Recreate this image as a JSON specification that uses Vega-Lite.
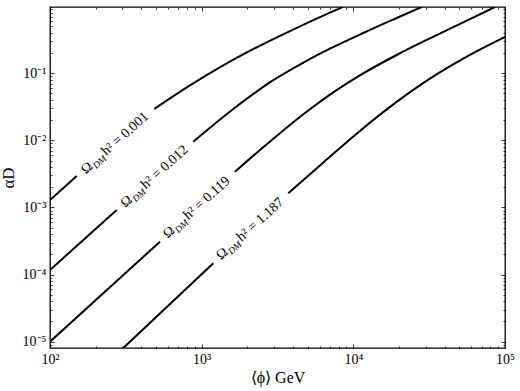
{
  "$schema": "https://vega.github.io/schema/vega-lite/v6.json",
  "width": 455,
  "height": 341,
  "autosize": {"type": "none"},
  "padding": {"left": 50, "top": 7, "right": 15, "bottom": 43},
  "config": {
    "view": {"stroke": "black", "strokeWidth": 1.3},
    "font": "Liberation Serif",
    "axis": {
      "domain": false, "grid": false, "tickColor": "black", "tickWidth": 0.8,
      "labelColor": "black", "labelFont": "Liberation Serif", "labelFontSize": 14,
      "labelFlush": false, "labelOverlap": false,
      "titleFont": "Liberation Serif", "titleColor": "black", "titleFontWeight": "normal"
    }
  },
  "datasets": {
    "curves": [
      {"omega": "0.001", "seg": "a", "phi": 100, "alpha": 0.001294},
      {"omega": "0.001", "seg": "a", "phi": 150, "alpha": 0.002946},
      {"omega": "0.001", "seg": "b", "phi": 487, "alpha": 0.02938},
      {"omega": "0.001", "seg": "b", "phi": 837, "alpha": 0.06603},
      {"omega": "0.001", "seg": "b", "phi": 1388, "alpha": 0.1311},
      {"omega": "0.001", "seg": "b", "phi": 2305, "alpha": 0.2432},
      {"omega": "0.001", "seg": "b", "phi": 3820, "alpha": 0.4256},
      {"omega": "0.001", "seg": "b", "phi": 7014, "alpha": 0.8},
      {"omega": "0.001", "seg": "b", "phi": 8538, "alpha": 0.973},
      {"omega": "0.012", "seg": "a", "phi": 100, "alpha": 0.0001171},
      {"omega": "0.012", "seg": "a", "phi": 275.3, "alpha": 0.000918},
      {"omega": "0.012", "seg": "b", "phi": 880, "alpha": 0.00956},
      {"omega": "0.012", "seg": "b", "phi": 1577, "alpha": 0.02818},
      {"omega": "0.012", "seg": "b", "phi": 2965, "alpha": 0.0789},
      {"omega": "0.012", "seg": "b", "phi": 4922, "alpha": 0.1536},
      {"omega": "0.012", "seg": "b", "phi": 7014, "alpha": 0.2326},
      {"omega": "0.012", "seg": "b", "phi": 11620, "alpha": 0.3989},
      {"omega": "0.012", "seg": "b", "phi": 19300, "alpha": 0.667},
      {"omega": "0.012", "seg": "b", "phi": 28200, "alpha": 0.973},
      {"omega": "0.119", "seg": "a", "phi": 100, "alpha": 0.00001},
      {"omega": "0.119", "seg": "a", "phi": 531, "alpha": 0.0003093},
      {"omega": "0.119", "seg": "b", "phi": 1658, "alpha": 0.003416},
      {"omega": "0.119", "seg": "b", "phi": 2423, "alpha": 0.00719},
      {"omega": "0.119", "seg": "b", "phi": 3451, "alpha": 0.01409},
      {"omega": "0.119", "seg": "b", "phi": 5175, "alpha": 0.02907},
      {"omega": "0.119", "seg": "b", "phi": 7014, "alpha": 0.04799},
      {"omega": "0.119", "seg": "b", "phi": 11620, "alpha": 0.09966},
      {"omega": "0.119", "seg": "b", "phi": 19300, "alpha": 0.1874},
      {"omega": "0.119", "seg": "b", "phi": 31990, "alpha": 0.3323},
      {"omega": "0.119", "seg": "b", "phi": 53030, "alpha": 0.5755},
      {"omega": "0.119", "seg": "b", "phi": 85810, "alpha": 0.973},
      {"omega": "1.187", "seg": "a", "phi": 304.2, "alpha": 0.00000805},
      {"omega": "1.187", "seg": "a", "phi": 1193, "alpha": 0.0001474},
      {"omega": "1.187", "seg": "b", "phi": 3723, "alpha": 0.001628},
      {"omega": "1.187", "seg": "b", "phi": 6401, "alpha": 0.00478},
      {"omega": "1.187", "seg": "b", "phi": 11050, "alpha": 0.01385},
      {"omega": "1.187", "seg": "b", "phi": 19300, "alpha": 0.03749},
      {"omega": "1.187", "seg": "b", "phi": 31990, "alpha": 0.08337},
      {"omega": "1.187", "seg": "b", "phi": 53030, "alpha": 0.1656},
      {"omega": "1.187", "seg": "b", "phi": 100000, "alpha": 0.3487}
    ],
    "labels": [
      {"omega": "0.001", "phi": 270.3, "alpha": 0.0093, "omegaText": "Ω", "sub": "DM", "rest": "h² = 0.001"},
      {"omega": "0.012", "phi": 492, "alpha": 0.002962, "omegaText": "Ω", "sub": "DM", "rest": "h² = 0.012"},
      {"omega": "0.119", "phi": 938, "alpha": 0.001028, "omegaText": "Ω", "sub": "DM", "rest": "h² = 0.119"},
      {"omega": "1.187", "phi": 2107, "alpha": 0.00049, "omegaText": "Ω", "sub": "DM", "rest": "h² = 1.187"}
    ]
  },
  "resolve": {"axis": {"x": "independent", "y": "independent"}},
  "layer": [
    {
      "data": {"name": "curves"},
      "mark": {"type": "line", "color": "black", "strokeWidth": 2, "interpolate": "monotone", "clip": true},
      "encoding": {
        "x": {"field": "phi", "type": "quantitative",
          "scale": {"type": "log", "domain": [100, 100000]},
          "axis": {"orient": "bottom", "values": [100, 1000, 10000, 100000],
            "labelExpr": "datum.value < 200 ? '10²' : datum.value < 2000 ? '10³' : datum.value < 20000 ? '10⁴' : '10⁵'",
            "tickSize": -4, "labelPadding": 8, "title": "⟨ϕ⟩ GeV", "titleFontSize": 16, "titlePadding": 3}},
        "y": {"field": "alpha", "type": "quantitative",
          "scale": {"type": "log", "domain": [0.00000805, 0.973]},
          "axis": {"orient": "left", "values": [0.00001, 0.0001, 0.001, 0.01, 0.1],
            "labelExpr": "datum.value < 0.00002 ? '10⁻⁵' : datum.value < 0.0002 ? '10⁻⁴' : datum.value < 0.002 ? '10⁻³' : datum.value < 0.02 ? '10⁻²' : '10⁻¹'",
            "tickSize": -4, "labelPadding": 8, "title": "αD", "titleFontSize": 17, "titlePadding": 5}},
        "detail": [{"field": "omega"}, {"field": "seg"}]
      }
    },
    {
      "data": {"name": "labels"},
      "mark": {"type": "text", "angle": 318, "align": "left", "baseline": "middle", "dx": -43.5, "fontSize": 14, "font": "Liberation Serif", "color": "black"},
      "encoding": {
        "x": {"field": "phi", "type": "quantitative", "scale": {"type": "log", "domain": [100, 100000]},
          "axis": {"orient": "top", "values": [100, 1000, 10000, 100000], "labels": false, "tickSize": -4, "title": null}},
        "y": {"field": "alpha", "type": "quantitative", "scale": {"type": "log", "domain": [0.00000805, 0.973]},
          "axis": {"orient": "right", "values": [0.00001, 0.0001, 0.001, 0.01, 0.1], "labels": false, "tickSize": -4, "title": null}},
        "text": {"field": "omegaText"}
      }
    },
    {
      "data": {"name": "labels"},
      "mark": {"type": "text", "angle": 318, "align": "left", "baseline": "middle", "dx": -32.2, "dy": 4, "fontSize": 9.5, "fontStyle": "italic", "font": "Liberation Serif", "color": "black"},
      "encoding": {
        "x": {"field": "phi", "type": "quantitative", "scale": {"type": "log", "domain": [100, 100000]},
          "axis": {"orient": "bottom", "values": [200, 300, 400, 500, 600, 700, 800, 900, 2000, 3000, 4000, 5000, 6000, 7000, 8000, 9000, 20000, 30000, 40000, 50000, 60000, 70000, 80000, 90000], "labels": false, "tickSize": -2, "title": null}},
        "y": {"field": "alpha", "type": "quantitative", "scale": {"type": "log", "domain": [0.00000805, 0.973]},
          "axis": {"orient": "left", "values": [0.000009, 0.00002, 0.00003, 0.00004, 0.00005, 0.00006, 0.00007, 0.00008, 0.00009, 0.0002, 0.0003, 0.0004, 0.0005, 0.0006, 0.0007, 0.0008, 0.0009, 0.002, 0.003, 0.004, 0.005, 0.006, 0.007, 0.008, 0.009, 0.02, 0.03, 0.04, 0.05, 0.06, 0.07, 0.08, 0.09, 0.2, 0.3, 0.4, 0.5, 0.6, 0.7, 0.8, 0.9], "labels": false, "tickSize": -2, "title": null}},
        "text": {"field": "sub"}
      }
    },
    {
      "data": {"name": "labels"},
      "mark": {"type": "text", "angle": 318, "align": "left", "baseline": "middle", "dx": -15.9, "fontSize": 14, "font": "Liberation Serif", "color": "black"},
      "encoding": {
        "x": {"field": "phi", "type": "quantitative", "scale": {"type": "log", "domain": [100, 100000]},
          "axis": {"orient": "top", "values": [200, 300, 400, 500, 600, 700, 800, 900, 2000, 3000, 4000, 5000, 6000, 7000, 8000, 9000, 20000, 30000, 40000, 50000, 60000, 70000, 80000, 90000], "labels": false, "tickSize": -2, "title": null}},
        "y": {"field": "alpha", "type": "quantitative", "scale": {"type": "log", "domain": [0.00000805, 0.973]},
          "axis": {"orient": "right", "values": [0.000009, 0.00002, 0.00003, 0.00004, 0.00005, 0.00006, 0.00007, 0.00008, 0.00009, 0.0002, 0.0003, 0.0004, 0.0005, 0.0006, 0.0007, 0.0008, 0.0009, 0.002, 0.003, 0.004, 0.005, 0.006, 0.007, 0.008, 0.009, 0.02, 0.03, 0.04, 0.05, 0.06, 0.07, 0.08, 0.09, 0.2, 0.3, 0.4, 0.5, 0.6, 0.7, 0.8, 0.9], "labels": false, "tickSize": -2, "title": null}},
        "text": {"field": "rest"}
      }
    }
  ]
}
